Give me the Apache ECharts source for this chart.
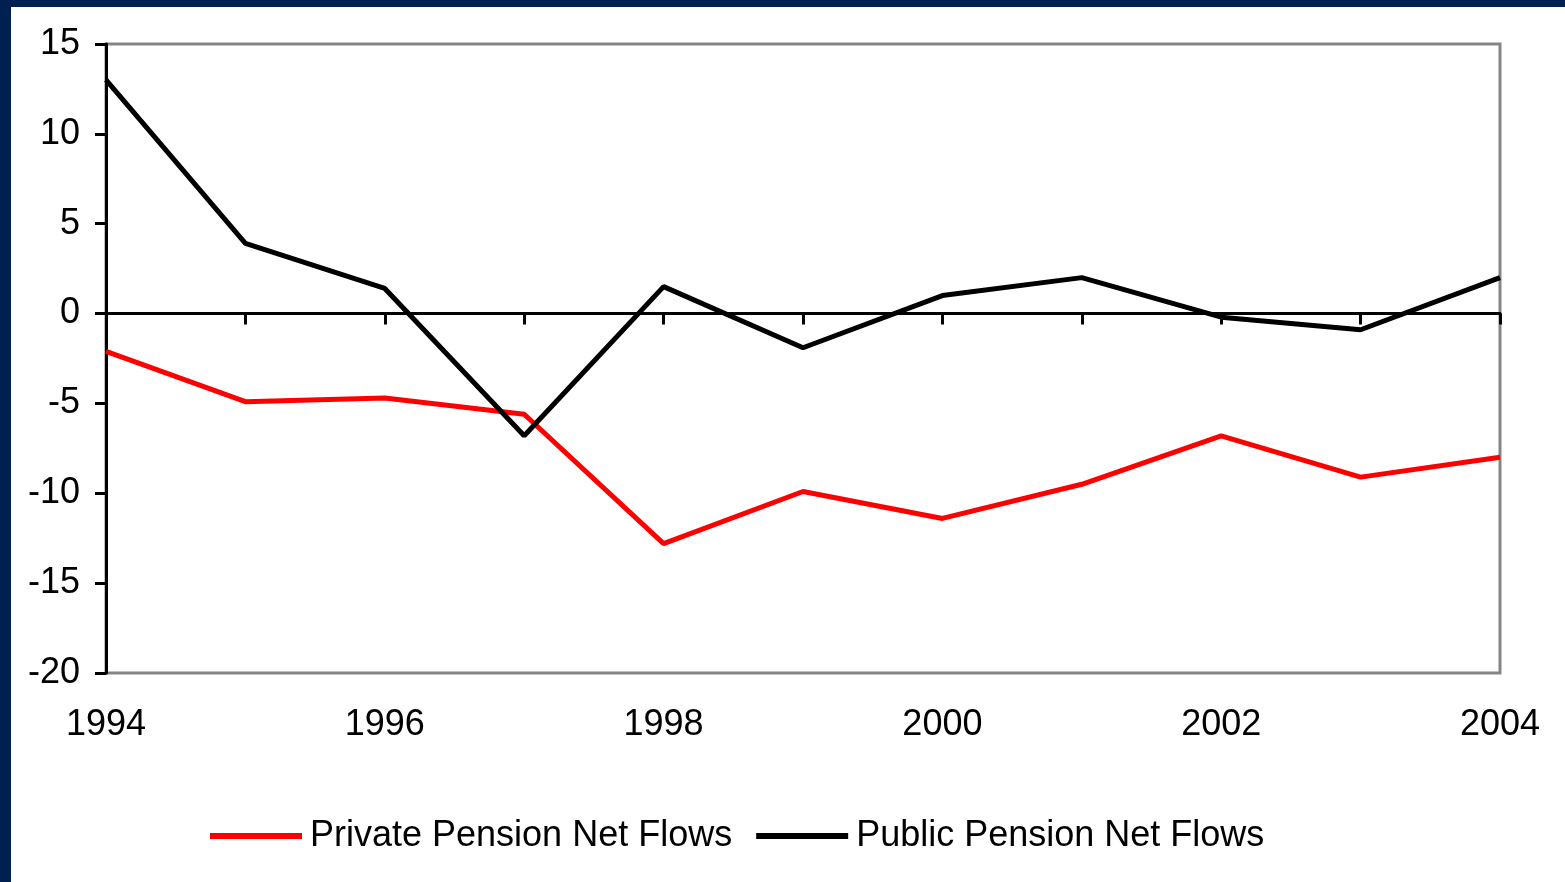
<!DOCTYPE html>
<html>
<head>
<meta charset="utf-8">
<script src="https://cdn.jsdelivr.net/npm/echarts@6/dist/echarts.min.js"></script>
<style>
html,body{margin:0;padding:0;background:#00204f;width:1565px;height:882px;overflow:hidden;}
#chart{position:absolute;left:11px;top:7px;width:1554px;height:875px;background:#fff;}
</style>
</head>
<body>
<div id="chart"></div>
<script>
const years = ['1994','1995','1996','1997','1998','1999','2000','2001','2002','2003','2004'];
const privateFlows = [-2.1, -4.9, -4.7, -5.6, -12.8, -9.9, -11.4, -9.5, -6.8, -9.1, -8.0];
const publicFlows = [13.0, 3.9, 1.4, -6.8, 1.5, -1.9, 1.0, 2.0, -0.2, -0.9, 2.0];
const yTicks = {min: -20, max: 15, interval: 5};
const seriesNames = ['Private Pension Net Flows', 'Public Pension Net Flows'];

const font = 'Liberation Sans, Arial, sans-serif';
const chart = echarts.init(document.getElementById('chart'));
chart.setOption({
  animation: false,
  grid: {left: 95, right: 65, top: 37, bottom: 209, show: true, borderColor: '#858585', borderWidth: 3, backgroundColor: '#fff'},
  legend: {
    left: 194, top: 806, icon: 'rect', itemWidth: 92, itemHeight: 6, itemGap: 24,
    textStyle: {fontFamily: font, fontSize: 36, color: '#000', padding: [0,0,0,3]},
    data: seriesNames
  },
  xAxis: [{
    type: 'category', data: years, boundaryGap: false, position: 'bottom',
    axisLine: {show: false, onZero: false}, axisTick: {show: false},
    axisLabel: {interval: 1, margin: 34, fontFamily: font, fontSize: 36, color: '#000'},
    splitLine: {show: false}
  }, {
    type: 'category', data: years, boundaryGap: false, position: 'bottom',
    axisLine: {show: true, onZero: true, lineStyle: {color: '#000', width: 3}},
    axisTick: {show: true, inside: false, length: 11, lineStyle: {color: '#000', width: 3}},
    axisLabel: {show: false}, splitLine: {show: false}
  }],
  yAxis: {
    type: 'value', min: yTicks.min, max: yTicks.max, interval: yTicks.interval,
    axisLine: {show: true, lineStyle: {color: '#000', width: 3}},
    axisTick: {show: true, length: 11, lineStyle: {color: '#000', width: 3}},
    axisLabel: {margin: 26, fontFamily: font, fontSize: 36, color: '#000'},
    splitLine: {show: false}
  },
  series: [{
    name: seriesNames[0], type: 'line', data: privateFlows, xAxisIndex: 0,
    showSymbol: false, symbol: 'none', lineStyle: {color: '#ff0000', width: 5}, itemStyle: {color: '#ff0000'}, z: 3
  }, {
    name: seriesNames[1], type: 'line', data: publicFlows, xAxisIndex: 0,
    showSymbol: false, symbol: 'none', lineStyle: {color: '#000', width: 5}, itemStyle: {color: '#000'}, z: 4
  }]
});
</script>
</body>
</html>
